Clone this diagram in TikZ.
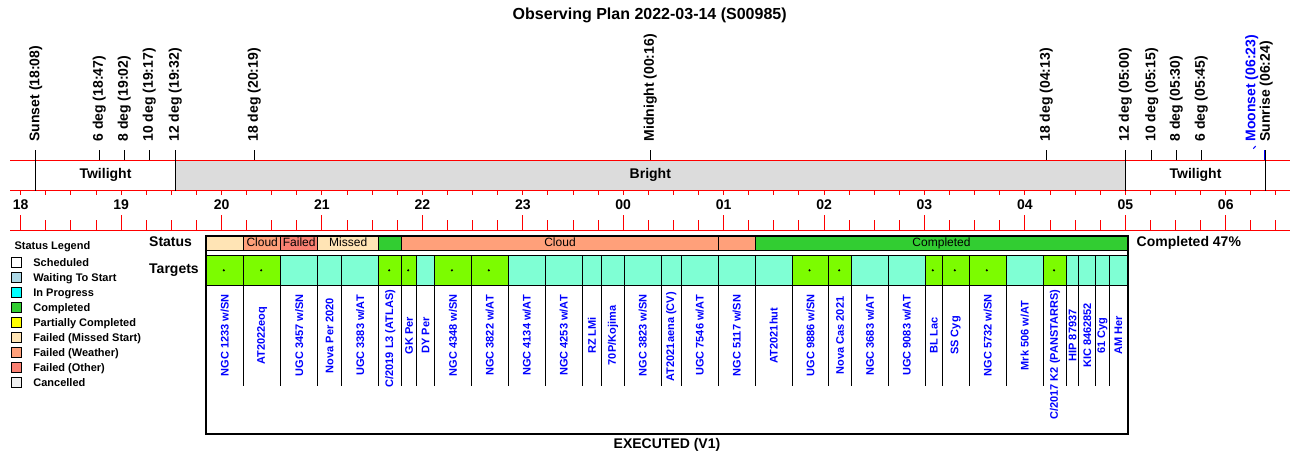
\documentclass[tikz,border=0pt]{standalone}
\usepackage{fontspec}
\setmainfont{Liberation Sans}
\usetikzlibrary{positioning}

\definecolor{bandgray}{HTML}{DCDCDC}
\definecolor{missedc}{HTML}{FFE4B5}
\definecolor{cloudc}{HTML}{FFA07A}
\definecolor{failc}{HTML}{FA8072}
\definecolor{donec}{HTML}{32CD32}
\definecolor{lawn}{HTML}{7CFC00}
\definecolor{aqua}{HTML}{7FFFD4}
\definecolor{waitc}{HTML}{ADD8E6}
\definecolor{progc}{HTML}{00FFFF}
\definecolor{partc}{HTML}{FFFF00}
\definecolor{cancc}{HTML}{F0F0F0}
\definecolor{tblue}{HTML}{0000FF}

\begin{document}
\begin{tikzpicture}[x=1pt,y=-1pt,node distance=15pt,
	red line/.style={red,line width=1pt},
	mark line/.style={black,line width=1pt},
	event/.style={rotate=90,anchor=west,inner sep=0pt,font=\fontsize{14}{16}\selectfont\bfseries},
	big text/.style={anchor=base,inner sep=0pt,font=\fontsize{14}{16}\selectfont\bfseries},
	seg/.style={draw=black,line width=1pt},
	seg text/.style={anchor=base,inner sep=0pt,font=\fontsize{12}{14}\selectfont},
	cell/.style={draw=black,line width=1pt},
	target/.style={rotate=90,text=tblue,inner sep=0pt,font=\fontsize{11}{13}\selectfont\bfseries},
	legend box/.style={draw,line width=1pt,minimum size=10pt,inner sep=0pt},
	legend text/.style={text height=8pt,text depth=0pt,inner sep=0pt,font=\fontsize{11}{13}\selectfont\bfseries}]
	
	\useasboundingbox (0,0) rectangle (1300,464);
	
	\node[big text,font=\fontsize{16}{18}\selectfont\bfseries] (title) at (649.7,19.8) {Observing Plan 2022-03-14 (S00985)};
	
	% night bands
	\fill[bandgray] (175.3,160) rectangle (1125.3,190.7);
	\draw[red line] (10,160) -- (1290,160);
	\draw[red line] (10,190.7) -- (1290,190.7);
	\draw[red line] (10,230) -- (1290,230);
	\node[big text] (tw1) at (105.5,178.3) {Twilight};
	\node[big text] (bright) at (650.3,178.3) {Bright};
	\node[big text] (tw2) at (1195.5,178.3) {Twilight};
	
	\foreach \q in {0,...,50} {
		\draw[red line] ({20.7+25.105*\q},190.7) -- ++(0,4.3);
		\draw[red line] ({20.7+25.105*\q},220) -- ++(0,10);
	}
	\foreach \h [count=\i from 0] in {18,19,20,21,22,23,00,01,02,03,04,05,06} {
		\draw[red line] ({20.7+100.42*\i},215) -- ++(0,15);
		\node[big text] (hr\i) at ({20.7+100.42*\i},209) {\h};
	}
	
	% sun and twilight times
	\foreach \x/\lbl/\y [count=\n] in {35.7/{Sunset (18:08)}/190.7, 99.3/{6 deg (18:47)}/160,
		124.3/{8 deg (19:02)}/160, 149.3/{10 deg (19:17)}/160, 175.3/{12 deg (19:32)}/190.7,
		254.3/{18 deg (20:19)}/160, 650.3/{Midnight (00:16)}/160, 1046.3/{18 deg (04:13)}/160,
		1125.3/{12 deg (05:00)}/190.7, 1151.7/{10 deg (05:15)}/160, 1176.3/{8 deg (05:30)}/160,
		1201.3/{6 deg (05:45)}/160} {
		\node[event] (ev\n) at (\x,141.7) {\lbl};
		\draw[mark line] (\x,150) -- (\x,\y);
	}
	\node[event,text=tblue] (moonset) at (1251.7,141.7) {Moonset (06:23)};
	\node[event] (sunrise) at (1266.2,141.7) {Sunrise (06:24)};
	\draw[tblue,line width=1pt] (1253.3,148.7) -- (1255.7,146);
	\draw[tblue,line width=1pt] (1264.3,150) -- (1264.3,160);
	\draw[mark line] (1265.5,150) -- (1265.5,190.7);
	
	% legend
	\node[big text,anchor=base west,font=\fontsize{11}{13}\selectfont\bfseries] (lgtitle) at (14.3,249.4) {Status Legend};
	\node[legend box,fill=white] (lg1) at (16.7,262.2) {};
	\node[legend box,fill=waitc] (lg2) [below of=lg1] {};
	\node[legend box,fill=progc] (lg3) [below of=lg2] {};
	\node[legend box,fill=donec] (lg4) [below of=lg3] {};
	\node[legend box,fill=partc] (lg5) [below of=lg4] {};
	\node[legend box,fill=missedc] (lg6) [below of=lg5] {};
	\node[legend box,fill=cloudc] (lg7) [below of=lg6] {};
	\node[legend box,fill=failc] (lg8) [below of=lg7] {};
	\node[legend box,fill=cancc] (lg9) [below of=lg8] {};
	\node[legend text] (lt1) [right=11pt of lg1] {Scheduled};
	\node[legend text] (lt2) [right=11pt of lg2] {Waiting To Start};
	\node[legend text] (lt3) [right=11pt of lg3] {In Progress};
	\node[legend text] (lt4) [right=11pt of lg4] {Completed};
	\node[legend text] (lt5) [right=11pt of lg5] {Partially Completed};
	\node[legend text] (lt6) [right=11pt of lg6] {Failed (Missed Start)};
	\node[legend text] (lt7) [right=11pt of lg7] {Failed (Weather)};
	\node[legend text] (lt8) [right=11pt of lg8] {Failed (Other)};
	\node[legend text] (lt9) [right=11pt of lg9] {Cancelled};
	
	% plan
	\node[big text,anchor=base west] (status) at (149,246.7) {Status};
	\node[big text,anchor=base west] (targets) at (149,273.3) {Targets};
	\node[big text,anchor=base west] (pct) at (1136.5,246.7) {Completed 47\%};
	
	\foreach \xa/\xb/\c/\lbl [count=\n] in {206/243.7/missedc/{}, 243.7/280.7/cloudc/Cloud,
		280.7/317.7/failc/Failed, 317.7/378.7/missedc/Missed, 378.7/401.7/donec/{},
		401.7/718.3/cloudc/Cloud, 718.3/755.3/cloudc/{}, 755.3/1127.7/donec/Completed} {
		\draw[seg,fill=\c] (\xa,235.5) rectangle (\xb,250.3);
		\node[seg text] (st\n) at ({(\xa+\xb)/2},246.3) {\lbl};
	}
	
	\foreach \xa/\xb/\hit/\yc/\lbl [count=\n] in {
		206/243.7/1/335.5/{NGC 1233 w/SN}, 243.7/280.7/1/335.5/{AT2022eoq},
		280.7/317.7/0/335.5/{UGC 3457 w/SN}, 317.7/341.7/0/335.5/{Nova Per 2020},
		341.7/378.7/0/335.5/{UGC 3383 w/AT}, 378.7/401.7/1/338.7/{C/2019 L3 (ATLAS)},
		401.7/416.7/1/335.5/{GK Per}, 416.7/434.5/0/335.5/{DY Per},
		434.5/471.3/1/335.5/{NGC 4348 w/SN}, 471.3/508.3/1/335.5/{NGC 3822 w/AT},
		508.3/545.3/0/335.5/{NGC 4134 w/AT}, 545.3/582.3/0/335.5/{NGC 4253 w/AT},
		582.3/601.7/0/335.5/{RZ LMi}, 601.7/624.3/0/335.5/{70P/Kojima},
		624.3/661.3/0/335.5/{NGC 3823 w/SN}, 661.3/681.3/0/336.7/{AT2021aena (CV)},
		681.3/718.3/0/335.5/{UGC 7546 w/AT}, 718.3/755.3/0/335.5/{NGC 5117 w/SN},
		755.3/792.3/0/335.5/{AT2021hut}, 792.3/828.7/1/335.5/{UGC 9886 w/SN},
		828.7/851.7/1/335.5/{Nova Cas 2021}, 851.7/888.3/0/335.5/{NGC 3683 w/AT},
		888.3/925.3/0/335.5/{UGC 9083 w/AT}, 925.3/942.3/1/335.5/{BL Lac},
		942.3/969.3/1/335.5/{SS Cyg}, 969.3/1006.3/1/335.5/{NGC 5732 w/SN},
		1006.3/1043.3/0/335.5/{Mrk 506 w/AT}, 1043.3/1066.7/1/354.7/{C/2017 K2 (PANSTARRS)},
		1066.7/1078.7/0/335.5/{HIP 87937}, 1078.7/1095.7/0/335.5/{KIC 8462852},
		1095.7/1109.3/0/335.5/{61 Cyg}, 1109.3/1127.7/0/335.5/{AM Her}} {
		\ifnum\hit=1 \def\cellc{lawn}\else\def\cellc{aqua}\fi
		\draw[cell,fill=\cellc] (\xa,255.5) rectangle (\xb,285.3);
		\ifnum\hit=1 \fill ({(\xa+\xb)/2-1},270.3) circle (1.2pt);\fi
		\draw[cell] (\xb,285.3) -- (\xb,385.7);
		\node[target] (tg\n) at ({(\xa+\xb)/2},\yc) {\lbl};
	}
	
	\draw[line width=2pt] (206,235.5) rectangle (1128,434);
	\node[big text] (exec) at (667,448.3) {EXECUTED (V1)};
\end{tikzpicture}
\end{document}
